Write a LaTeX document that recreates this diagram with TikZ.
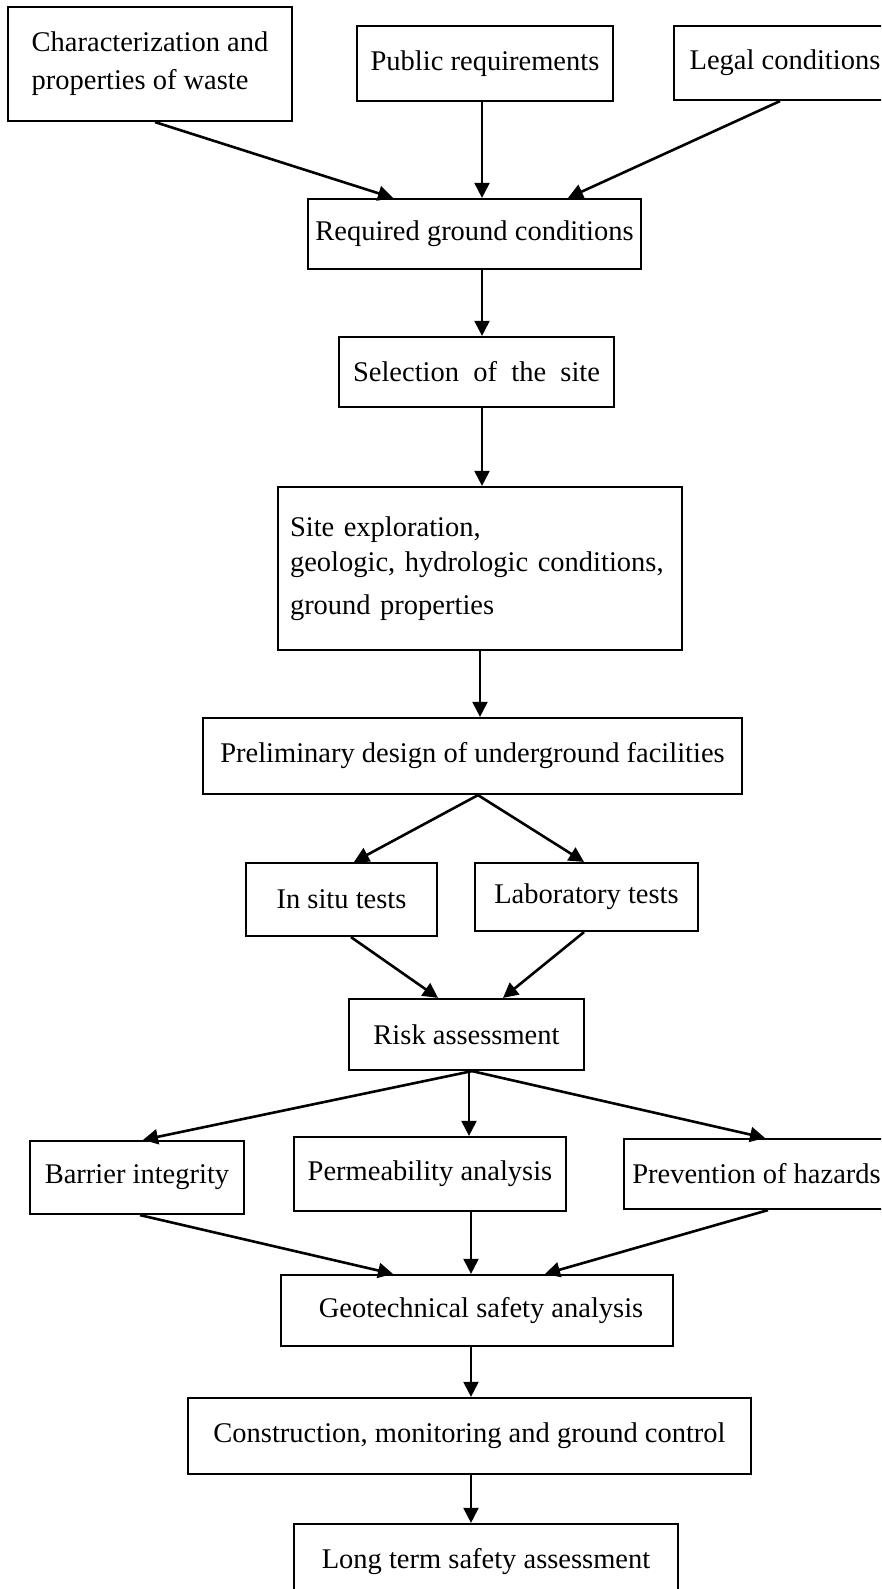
\documentclass[tikz,border=0pt]{standalone}
\usepackage{fontspec}
\setmainfont{Liberation Serif}
\usetikzlibrary{arrows.meta}

\tikzset{
  box/.style={draw, line width=2.2pt, inner sep=0pt,
    font=\fontsize{28.5}{34}\selectfont},
  flow/.style={line width=2pt, -{Triangle[length=15pt,width=15pt]}},
  slant/.style={flow, line width=2.6pt},
}

\begin{document}
\begin{tikzpicture}[x=1pt, y=-1pt]
  \useasboundingbox (0,0) rectangle (881,1589);
  \clip (0,0) rectangle (881,1589);
  \fill[white] (0,0) rectangle (881,1589);

  % inputs
  \node[box, minimum width=284pt, minimum height=114pt, align=left] (char) at (150,64)
    {Characterization and\\[4pt]properties of waste};
  \node[box, minimum width=256pt, minimum height=75pt] (pub) at (485,63.5) {Public requirements};
  \node[box, minimum width=222pt, minimum height=74pt] (legal) at (785,63) {Legal conditions};

  % main chain
  \node[box, minimum width=333pt, minimum height=70pt] (req) at (474.5,234) {Required ground conditions};
  \node[box, minimum width=275pt, minimum height=70pt] (sel) at (476.5,372) {Selection\ \ of\ \ the\ \ site};
  \node[box, minimum width=404pt, minimum height=163pt, text width=380pt, align=left] (site) at (480,568.5)
    {Site exploration,\\[1pt]geologic, hydrologic conditions,\\[9pt]ground properties};
  \node[box, minimum width=539pt, minimum height=76pt] (prelim) at (472.5,756) {Preliminary design of underground facilities};

  % tests
  \node[box, minimum width=191pt, minimum height=73pt] (insitu) at (341.5,899.5) {In situ tests};
  \node[box, minimum width=223pt, minimum height=68pt] (lab) at (586.5,897) {Laboratory tests};

  \node[box, minimum width=235pt, minimum height=71pt] (risk) at (466.5,1034.5) {Risk assessment};

  % analyses
  \node[box, minimum width=214pt, minimum height=73pt] (barrier) at (137,1177.5) {Barrier integrity};
  \node[box, minimum width=272pt, minimum height=74pt] (perm) at (430,1174) {Permeability analysis};
  \node[box, minimum width=265pt, minimum height=70pt] (prev) at (756.5,1174) {Prevention of hazards};

  \node[box, minimum width=392pt, minimum height=71pt] (geo) at (477,1310.5) {\hspace{8pt}Geotechnical safety analysis};
  \node[box, minimum width=563pt, minimum height=76pt] (cons) at (469.5,1436) {Construction, monitoring and ground control};
  \node[box, minimum width=384pt, minimum height=76pt] (long) at (486,1562) {Long term safety assessment};

  % connectors
  \draw[slant] ([xshift=5pt]char.south) -- ([xshift=-81.5pt]req.north);
  \draw[flow]  ([xshift=-3pt]pub.south) -- ([xshift=-3pt]pub.south |- req.north);
  \draw[slant] ([xshift=-5pt]legal.south) -- ([xshift=93.5pt]req.north);

  \draw[flow] ([xshift=7.5pt]req.south) -- ([xshift=7.5pt]req.south |- sel.north);
  \draw[flow] ([xshift=5.5pt]sel.south) -- ([xshift=5.5pt]sel.south |- site.north);
  \draw[flow] (site.south) -- (site.south |- prelim.north);

  \draw[slant] ([xshift=5.5pt]prelim.south) -- ([xshift=12.5pt]insitu.north);
  \draw[slant] ([xshift=5.5pt]prelim.south) -- ([xshift=-2.5pt]lab.north);

  \draw[slant] ([xshift=9.5pt]insitu.south) -- ([xshift=-28.5pt]risk.north);
  \draw[slant] ([xshift=-2.5pt]lab.south) -- ([xshift=36.5pt]risk.north);

  \draw[slant] ([xshift=5.5pt]risk.south) -- ([xshift=6pt]barrier.north);
  \draw[flow]  ([xshift=2.5pt]risk.south) -- ([xshift=2.5pt]risk.south |- perm.north);
  \draw[slant] ([xshift=5.5pt]risk.south) -- ([xshift=8.5pt]prev.north);

  \draw[slant] ([xshift=3pt]barrier.south) -- ([xshift=-84pt]geo.north);
  \draw[flow]  ([xshift=41pt]perm.south) -- ([xshift=41pt]perm.south |- geo.north);
  \draw[slant] ([xshift=11.5pt]prev.south) -- ([xshift=68pt]geo.north);

  \draw[flow] ([xshift=-6pt]geo.south) -- ([xshift=-6pt]geo.south |- cons.north);
  \draw[flow] ([xshift=1.5pt]cons.south) -- ([xshift=1.5pt]cons.south |- long.north);
\end{tikzpicture}
\end{document}
